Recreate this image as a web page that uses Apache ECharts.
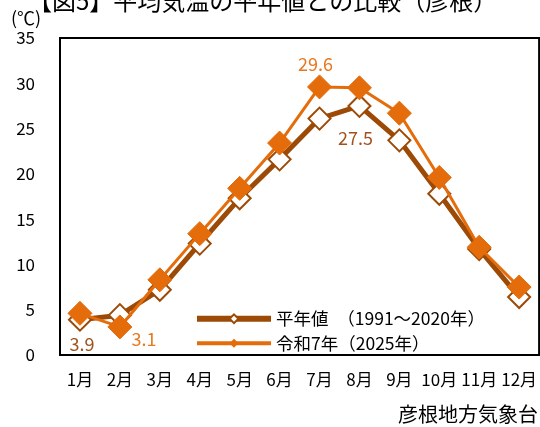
<!DOCTYPE html>
<html>
<head>
<meta charset="utf-8">
<script src="https://cdn.jsdelivr.net/npm/echarts@6/dist/echarts.min.js"></script>
<style>
html,body{margin:0;padding:0;background:#fff;}
#chart{width:540px;height:427px;}
</style>
</head>
<body>
<div id="chart"></div>
<script>
var months = ['1月','2月','3月','4月','5月','6月','7月','8月','9月','10月','11月','12月'];
var normalName = '平年値　（1991～2020年）';
var currentName = '令和7年（2025年）';
var normalTemp = [3.9, 4.4, 7.2, 12.3, 17.3, 21.6, 26.1, 27.5, 23.7, 17.8, 11.7, 6.4];
var currentTemp = [4.6, 3.1, 8.3, 13.4, 18.4, 23.4, 29.6, 29.5, 26.7, 19.6, 11.9, 7.5];
var yTicks = [0, 35, 5]; // min, max, interval

var numFont = '"Noto Sans CJK JP", sans-serif';
var jpFont = '"Noto Sans CJK JP", sans-serif';
var brown = '#9c4a06';
var orange = '#e46c0a';

var echart = echarts.init(document.getElementById('chart'));

// 値ラベル（一部の点だけ表示）
var normalData = normalTemp.map(function(v, i){
    var d = {value: v};
    if (i === 0) d.label = {show: true, position: 'bottom', offset: [2, -2]};
    if (i === 7) d.label = {show: true, position: 'bottom', offset: [-4, 6]};
    return d;
});
var currentData = currentTemp.map(function(v, i){
    var d = {value: v};
    if (i === 6) d.label = {show: true, position: 'top', offset: [-4, 4]};
    if (i === 1) d.label = {show: true, position: 'right', offset: [-6, 12]};
    return d;
});

var option = {
    animation: false,
    backgroundColor: '#fff',
    graphic: [
        {type: 'text', left: 28, top: -11,
         style: {text: '【図5】平均気温の平年値との比較（彦根）', font: '24px "Noto Sans CJK JP"', fill: '#000'}},
        {type: 'text', left: 11, top: 9,
         style: {text: '(℃)', font: '18px "Noto Sans CJK JP"', fill: '#000'}},
        {type: 'text', right: 2, top: 404,
         style: {text: '彦根地方気象台', font: '20px "Noto Sans CJK JP"', fill: '#000'}}
    ],
    grid: {left: 60, right: -1, top: 38, bottom: 72, show: true, borderColor: '#000', borderWidth: 2},
    legend: {
        orient: 'vertical',
        left: 189,
        top: 305,
        itemWidth: 74,
        itemHeight: 11,
        itemGap: 7,
        textStyle: {fontFamily: jpFont, fontSize: 17.5, color: '#000'},
        data: [
            {name: normalName, lineStyle: {width: 6}},
            {name: currentName, lineStyle: {width: 4}}
        ]
    },
    xAxis: {
        type: 'category',
        data: months,
        boundaryGap: true,
        axisLine: {show: false},
        axisTick: {show: false},
        axisLabel: {interval: 0, margin: 16, fontFamily: numFont, fontSize: 17, color: '#000'}
    },
    yAxis: {
        type: 'value',
        min: yTicks[0],
        max: yTicks[1],
        interval: yTicks[2],
        splitLine: {show: false},
        axisLine: {show: false},
        axisTick: {show: false},
        axisLabel: {margin: 25, fontFamily: numFont, fontSize: 17, color: '#000'}
    },
    series: [
        {
            name: normalName,
            type: 'line',
            data: normalData,
            symbol: 'diamond',
            symbolSize: 22,
            lineStyle: {color: brown, width: 5},
            itemStyle: {color: '#fff', borderColor: brown, borderWidth: 2},
            label: {show: false, fontFamily: numFont, fontSize: 18, color: '#a0521e'},
            z: 2
        },
        {
            name: currentName,
            type: 'line',
            data: currentData,
            symbol: 'diamond',
            symbolSize: 24,
            lineStyle: {color: orange, width: 3},
            itemStyle: {color: orange, borderColor: orange},
            label: {show: false, fontFamily: numFont, fontSize: 18, color: '#e8781e'},
            z: 3
        }
    ]
};

echart.setOption(option);
</script>
</body>
</html>
